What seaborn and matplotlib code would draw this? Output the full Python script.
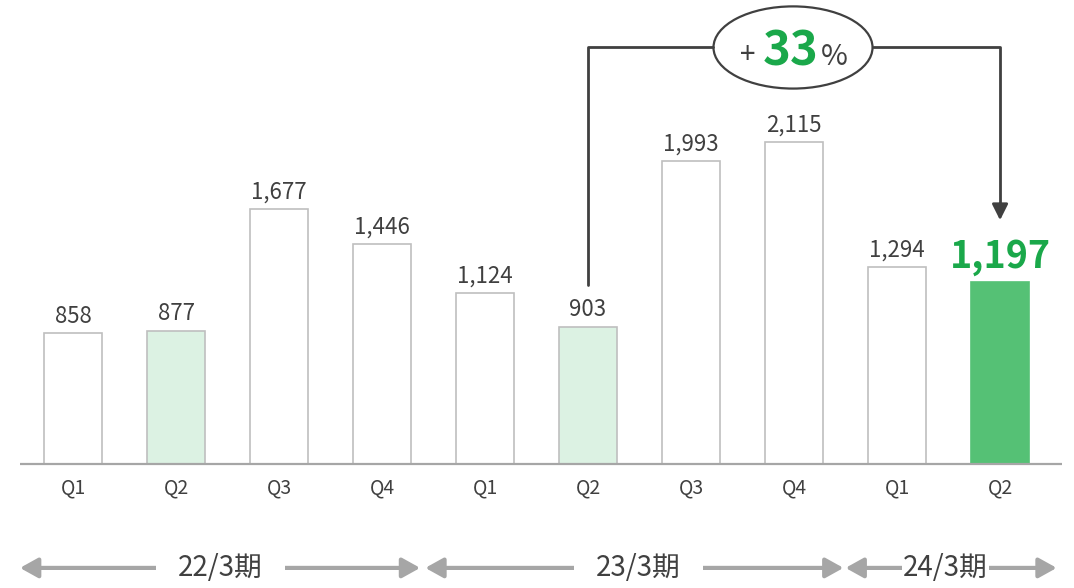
import matplotlib
matplotlib.use('Agg')
import matplotlib.pyplot as plt
from matplotlib.patches import Ellipse
import seaborn as sns
import pandas as pd

# Data
keys = ['22Q1', '22Q2', '22Q3', '22Q4', '23Q1', '23Q2', '23Q3', '23Q4', '24Q1', '24Q2']
quarters = ['Q1', 'Q2', 'Q3', 'Q4', 'Q1', 'Q2', 'Q3', 'Q4', 'Q1', 'Q2']
values = [858, 877, 1677, 1446, 1124, 903, 1993, 2115, 1294, 1197]
periods = ['22/3期', '23/3期', '24/3期']
growth = '33'

# Colours
white = '#ffffff'
light = '#dcf2e3'
green = '#55c175'
txt_green = '#1aa84a'
dark = '#404040'
grey = '#bfbfbf'
arrow_grey = '#a6a6a6'
fills = [white, light, white, white, white, light, white, white, white, green]

sns.set_theme(style='white')
plt.rcParams['font.family'] = ['Noto Sans CJK JP', 'DejaVu Sans']

df = pd.DataFrame({'key': keys, 'value': values})

fig = plt.figure(figsize=(10.74, 5.88), dpi=100)
ax = fig.add_axes([0, 0, 1, 1])
sns.barplot(data=df, x='key', y='value', hue='key', palette=fills, legend=False,
            width=0.56, saturation=1, edgecolor=grey, linewidth=1.2, ax=ax)
ax.patches[-1].set_edgecolor(green)

ax.set_xlim(-0.709, 9.718)
ax.set_ylim(-815, 3049)
ax.axis('off')

# baseline
ax.plot([-0.515, 9.6], [0, 0], color=arrow_grey, lw=1.6, solid_capstyle='butt')

# value labels
for i, v in enumerate(values):
    if i == len(values) - 1:
        ax.annotate(f'{v:,}', (i, v), xytext=(0, 4), textcoords='offset points',
                    ha='center', va='bottom', fontsize=27, fontweight='bold', color=txt_green)
    else:
        ax.annotate(f'{v:,}', (i, v), xytext=(0, 4), textcoords='offset points',
                    ha='center', va='bottom', fontsize=16, color=dark)

# quarter labels
for i, q in enumerate(quarters):
    ax.text(i, -158, q, ha='center', va='center', fontsize=14, color=dark)

# period arrows
spans = [(-0.515, 3.37, 1.43, 16), (3.42, 7.48, 5.49, 16), (7.50, 9.55, 8.47, 1)]
for (x0, x1, xc, pad), p in zip(spans, periods):
    ax.annotate('', xy=(x1, -683), xytext=(x0, -683),
                arrowprops=dict(arrowstyle='<|-|>,head_length=0.9,head_width=0.5',
                                color=arrow_grey, lw=3, shrinkA=0, shrinkB=0))
    ax.text(xc, -683, p, ha='center', va='center', fontsize=20, color=dark,
            bbox=dict(facecolor='white', edgecolor='none', pad=pad))

# growth bracket
top_y = 2737
start_y = values[5] + 270
tip_y = values[9] + 405
ell_x, ell_w, ell_h = 6.99, 1.544, 540
ax.plot([5, 5, ell_x - ell_w / 2], [start_y, top_y, top_y], color=dark, lw=2)
ax.plot([ell_x + ell_w / 2, 9, 9], [top_y, top_y, tip_y + 100], color=dark, lw=2)
ax.annotate('', xy=(9, tip_y), xytext=(9, tip_y + 110),
            arrowprops=dict(arrowstyle='-|>,head_length=0.8,head_width=0.4',
                            color=dark, lw=2, shrinkA=0, shrinkB=0))
ax.add_patch(Ellipse((ell_x, top_y), ell_w, ell_h, facecolor='white',
                     edgecolor=dark, lw=1.6))
ax.text(6.546, 2635, '+', ha='center', va='baseline', fontsize=20, color=dark)
ax.text(6.97, 2620, growth, ha='center', va='baseline', fontsize=34,
        fontweight='bold', color=txt_green)
ax.text(7.39, 2620, '%', ha='center', va='baseline', fontsize=21, color=dark)

fig.savefig('out.png', dpi=100)
